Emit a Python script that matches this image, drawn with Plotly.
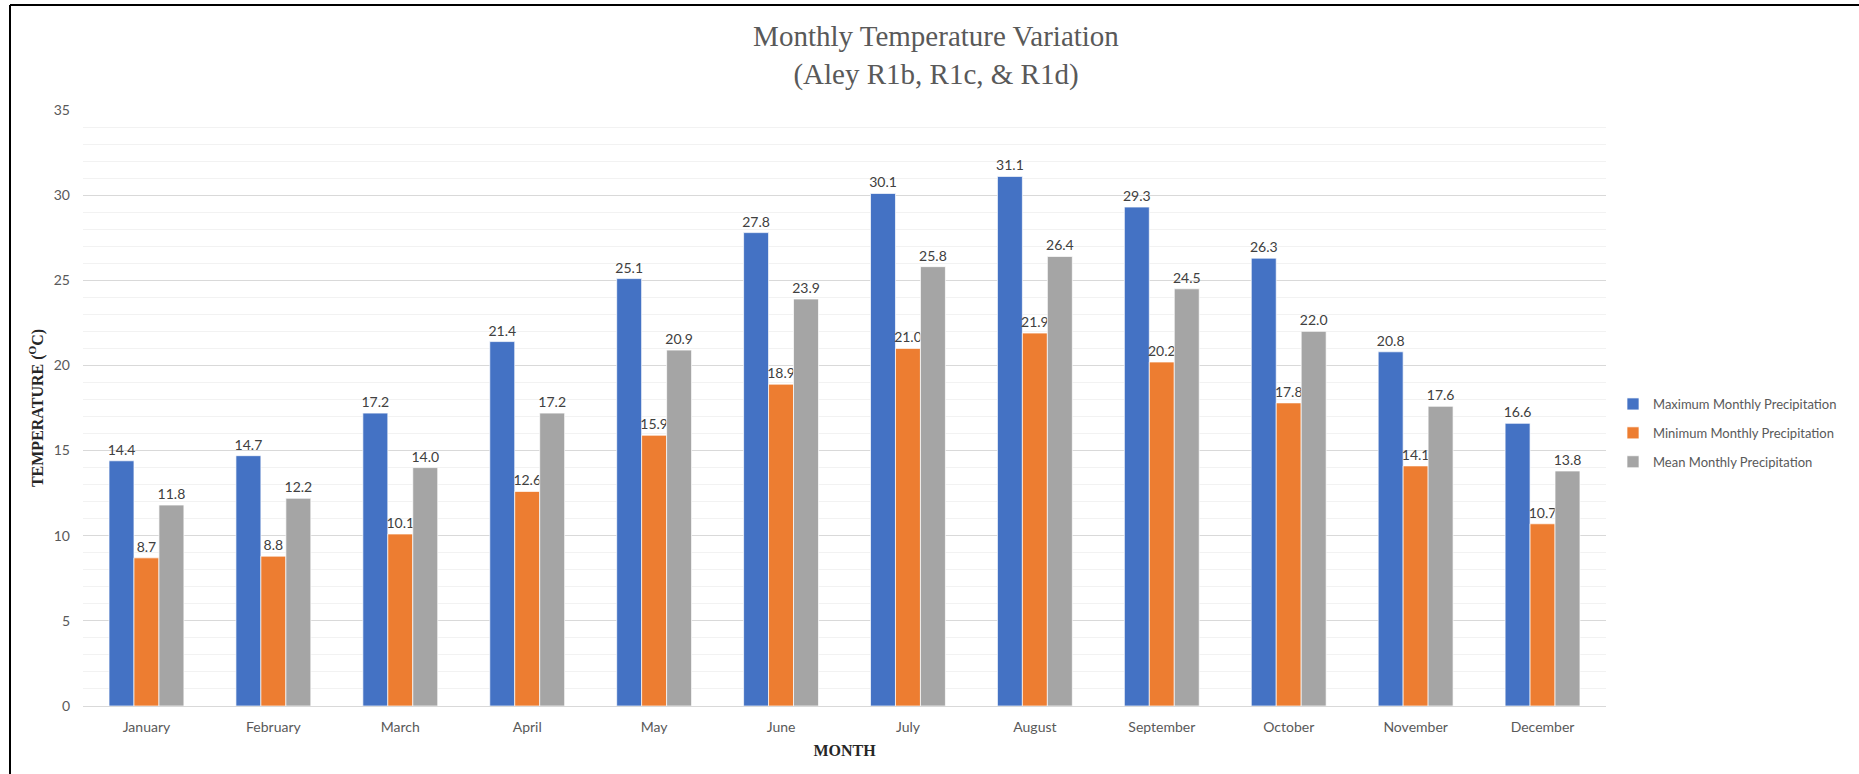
import plotly.graph_objects as go

months = ["January", "February", "March", "April", "May", "June", "July",
          "August", "September", "October", "November", "December"]
max_vals = [14.4, 14.7, 17.2, 21.4, 25.1, 27.8, 30.1, 31.1, 29.3, 26.3, 20.8, 16.6]
min_vals = [8.7, 8.8, 10.1, 12.6, 15.9, 18.9, 21.0, 21.9, 20.2, 17.8, 14.1, 10.7]
mean_vals = [11.8, 12.2, 14.0, 17.2, 20.9, 23.9, 25.8, 26.4, 24.5, 22.0, 17.6, 13.8]
series_names = ["Maximum Monthly Precipitation", "Minimum Monthly Precipitation",
                "Mean Monthly Precipitation"]
colors = ["#4472C4", "#ED7D31", "#A5A5A5"]
y_ticks = [0, 5, 10, 15, 20, 25, 30, 35]

W, H = 1859, 774
L, R, T, B = 83, 253, 110, 68
pw, ph = W - L - R, H - T - B

fig = go.Figure()
for i, (name, vals, col) in enumerate(zip(series_names, [max_vals, min_vals, mean_vals], colors)):
    fig.add_trace(go.Bar(
        x=months, y=vals, name=name, legendgroup=f"g{i}",
        marker=dict(color=col, line=dict(color="rgba(255,255,255,0.7)", width=1)),
        text=[f"{v:.1f}" for v in vals], textposition="outside",
        textfont=dict(family="Lato", size=14, color="#404040"),
        constraintext="none", cliponaxis=False,
    ))

def px_x(p):
    return (p - L) / pw

def px_y(p):
    return (H - B - p) / ph

shapes = [
    dict(type="line", xref="paper", yref="paper", x0=px_x(10), x1=px_x(W), y0=px_y(5), y1=px_y(5),
         line=dict(color="black", width=2)),
    dict(type="line", xref="paper", yref="paper", x0=px_x(10), x1=px_x(10), y0=px_y(5), y1=px_y(H),
         line=dict(color="black", width=2)),
]

fig.update_layout(
    width=W, height=H,
    margin=dict(l=L, r=R, t=T, b=B, autoexpand=False),
    paper_bgcolor="white", plot_bgcolor="white",
    barmode="group", bargap=0.41, bargroupgap=0,
    title=dict(text="Monthly Temperature Variation<br>(Aley R1b, R1c, & R1d)",
               font=dict(family="Liberation Serif", size=29, color="#595959"),
               xref="container", x=936 / W, xanchor="center",
               yref="container", y=1 - 46 / H, yanchor="middle"),
    legend=dict(xref="container", x=1613 / W, xanchor="left",
                yref="container", y=1 - 433 / H, yanchor="middle",
                font=dict(family="Lato", size=13, color="#595959"),
                tracegroupgap=9, bgcolor="rgba(0,0,0,0)", itemwidth=30),
    xaxis=dict(
        tickfont=dict(family="Lato", size=14, color="#595959"),
        showgrid=False, showline=False, ticks="", ticklabelstandoff=11,
        title=dict(text="<b>MONTH</b>", font=dict(family="Liberation Serif", size=16, color="#262626"),
                   standoff=10),
    ),
    yaxis=dict(
        range=[0, 35], tickvals=y_ticks,
        tickfont=dict(family="Lato", size=14, color="#595959"),
        showgrid=True, gridcolor="#D9D9D9", gridwidth=1,
        zeroline=True, zerolinecolor="#D9D9D9", zerolinewidth=1,
        minor=dict(dtick=1, showgrid=True, gridcolor="#F2F2F2", gridwidth=1),
        showline=False, ticks="", ticklabelstandoff=12,
        title=dict(text="<b>TEMPERATURE (<sup>O</sup>C)</b>",
                   font=dict(family="Liberation Serif", size=16, color="#262626"), standoff=6),
    ),
    shapes=shapes,
)

fig.write_html("out.html", config={"displayModeBar": False},
               post_script="document.body.style.margin='0';document.body.style.overflow='hidden';")
